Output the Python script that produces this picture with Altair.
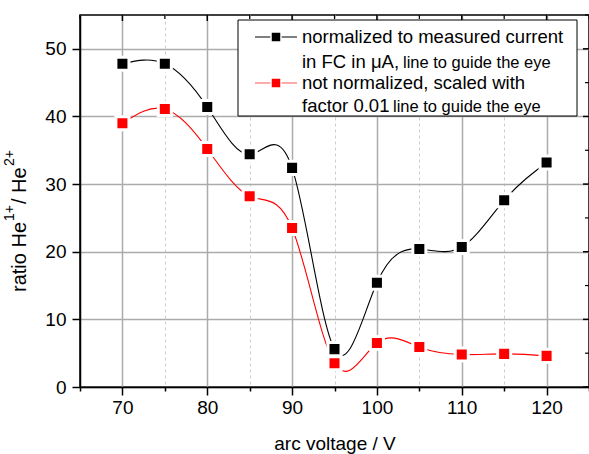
import altair as alt
import pandas as pd

# ---- data ----
voltage = [70, 75, 80, 85, 90, 95, 100, 105, 110, 115, 120]
normalized = [47.8, 47.8, 41.4, 34.4, 32.4, 5.6, 15.4, 20.4, 20.7, 27.6, 33.2]
not_normalized = [39.0, 41.1, 35.2, 28.2, 23.5, 3.5, 6.5, 5.9, 4.8, 4.9, 4.6]
series_names = ["normalized", "not normalized"]
series_colors = ["#000000", "#ff0000"]
x_ticks = [65, 70, 75, 80, 85, 90, 95, 100, 105, 110, 115, 120, 125]
y_ticks = [0, 5, 10, 15, 20, 25, 30, 35, 40, 45, 50, 55]
legend_main = ["normalized to measured current", "in FC in \u03bcA,", "not normalized, scaled with", "factor 0.01"]
legend_small = ["line to guide the eye", "line to guide the eye"]
y_title_parts = ["ratio He", "1+", "/ He", "2+"]

FONT = "Liberation Sans"
W, H = 509, 372

df = pd.DataFrame({
    "voltage": voltage * 2,
    "ratio": normalized + not_normalized,
    "series": [series_names[0]] * len(voltage) + [series_names[1]] * len(voltage),
})
xt = pd.DataFrame({"v": x_ticks})
yt = pd.DataFrame({"v": y_ticks})
one = pd.DataFrame({"a": [0]})

xscale = alt.Scale(domain=[65, 125], nice=False, zero=False)
yscale = alt.Scale(domain=[0, 55], nice=False)
color = alt.Color("series:N", scale=alt.Scale(domain=series_names, range=series_colors), legend=None)

major = "datum.value % 10 === 0"
common = dict(
    tickSize={"condition": {"test": major, "value": 8}, "value": 4},
    gridDash={"condition": {"test": major, "value": [1, 0]}, "value": [3, 3]},
    gridColor={"condition": {"test": major, "value": "#ababab"}, "value": "#cccccc"},
    gridWidth={"condition": {"test": major, "value": 1.5}, "value": 1},
    labelExpr=f"{major} ? datum.label : ''",
)
x_axis = alt.Axis(values=x_ticks, title="arc voltage / V", labelPadding=3, titlePadding=17, **common)
y_axis = alt.Axis(values=y_ticks, title="", labelPadding=6, **common)

base = alt.Chart(df)
lines = base.mark_line(interpolate="natural", strokeWidth=1.1).encode(
    x=alt.X("voltage:Q", scale=xscale, axis=x_axis),
    y=alt.Y("ratio:Q", scale=yscale, axis=y_axis),
    color=color,
)
points = base.mark_square(size=170, opacity=1, stroke="white", strokeWidth=3).encode(
    x=alt.X("voltage:Q", scale=xscale),
    y=alt.Y("ratio:Q", scale=yscale),
    fill=alt.Fill("series:N", scale=alt.Scale(domain=series_names, range=series_colors), legend=None),
)

# top / right inward ticks
top_major = alt.Chart(xt).transform_filter("datum.v % 10 === 0").mark_rule(color="black", strokeWidth=1.5).encode(
    x=alt.X("v:Q", scale=xscale), y=alt.value(0), y2=alt.value(6))
top_minor = alt.Chart(xt).transform_filter("datum.v % 10 !== 0").mark_rule(color="black", strokeWidth=1.2).encode(
    x=alt.X("v:Q", scale=xscale), y=alt.value(0), y2=alt.value(4))
right_major = alt.Chart(yt).transform_filter("datum.v % 10 === 0").mark_rule(color="black", strokeWidth=1.5).encode(
    y=alt.Y("v:Q", scale=yscale), x=alt.value(W), x2=alt.value(W - 6))
right_minor = alt.Chart(yt).transform_filter("datum.v % 10 !== 0").mark_rule(color="black", strokeWidth=1.2).encode(
    y=alt.Y("v:Q", scale=yscale), x=alt.value(W), x2=alt.value(W - 4))

# legend
lg = alt.Chart(one)
box = lg.mark_rect(fill="white", stroke="black", strokeWidth=1).encode(
    x=alt.value(158), x2=alt.value(497), y=alt.value(5), y2=alt.value(101))
sym_line_k = lg.mark_rule(color="black", strokeWidth=1.2).encode(x=alt.value(175), x2=alt.value(217), y=alt.value(22))
sym_line_r = lg.mark_rule(color="#ff5555", strokeWidth=1.2).encode(x=alt.value(175), x2=alt.value(217), y=alt.value(68))
sym_sq_k = lg.mark_square(size=100, color="black", opacity=1, stroke="white", strokeWidth=1.5).encode(x=alt.value(196), y=alt.value(22))
sym_sq_r = lg.mark_square(size=100, color="#ff0000", opacity=1, stroke="white", strokeWidth=1.5).encode(x=alt.value(196), y=alt.value(68))


def txt(s, x, y, size, angle=0, baseline="middle"):
    return lg.mark_text(align="left", baseline=baseline, font=FONT, fontSize=size, color="black", angle=angle).encode(
        x=alt.value(x), y=alt.value(y), text=alt.value(s))


legend_texts = [
    txt(legend_main[0], 222, 22, 18.5),
    txt(legend_main[1], 222, 47, 18.5),
    txt(legend_small[0], 323, 48, 16.5),
    txt(legend_main[2], 222, 68, 18.5),
    txt(legend_main[3], 222, 91, 18.5),
    txt(legend_small[1], 313, 92, 16.5),
]

# rotated y-axis title with real superscripts
y_title = [
    txt(y_title_parts[0], -54, 277, 20, angle=270, baseline="alphabetic"),
    txt(y_title_parts[1], -66, 206, 14, angle=270, baseline="alphabetic"),
    txt(y_title_parts[2], -54, 189, 20, angle=270, baseline="alphabetic"),
    txt(y_title_parts[3], -66, 151, 14, angle=270, baseline="alphabetic"),
]

chart = alt.layer(
    lines, points, top_major, top_minor, right_major, right_minor,
    box, sym_line_k, sym_line_r, sym_sq_k, sym_sq_r, *legend_texts, *y_title,
).properties(
    width=W, height=H,
    autosize=alt.AutoSizeParams(type="none"),
    padding={"left": 80, "top": 15, "right": 0, "bottom": 67},
    background="white",
).configure_view(
    stroke="black", strokeWidth=1.5
).configure_axis(
    labelFont=FONT, titleFont=FONT, labelFontSize=19, titleFontSize=19,
    labelColor="black", titleColor="black", titleFontWeight="normal",
    domainColor="black", domainWidth=1.5, tickColor="black", tickWidth=1.5,
)

chart.save("out.html", embed_options={"renderer": "svg", "actions": False})
